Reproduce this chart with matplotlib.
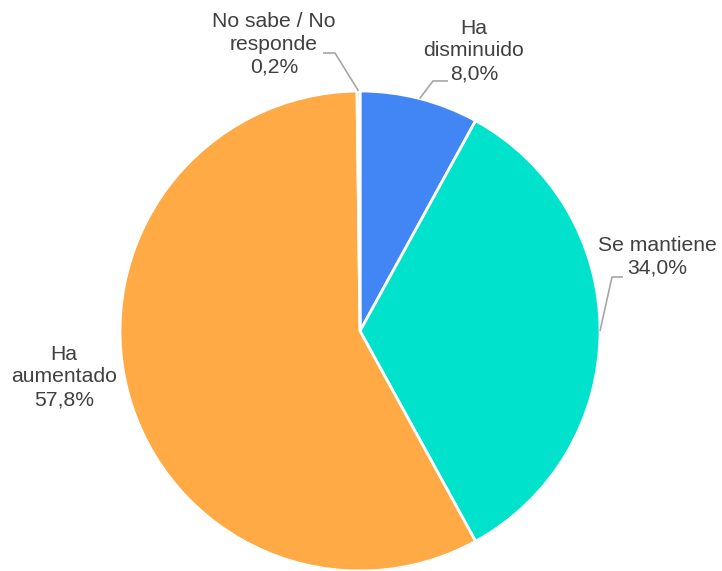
import numpy as np
import matplotlib
matplotlib.use("Agg")
import matplotlib.pyplot as plt

categories = ["Ha\ndisminuido", "Se mantiene", "Ha\naumentado", "No sabe / No\nresponde"]
values = [8.0, 34.0, 57.8, 0.2]
value_labels = ["8,0%", "34,0%", "57,8%", "0,2%"]
colors = ["#4285F4", "#00E2CB", "#FFAA44", "#A5A5A5"]

W, H = 722, 571
fig = plt.figure(figsize=(W / 100, H / 100), dpi=100)
ax = fig.add_axes([0, 0, 1, 1])
ax.set_xlim(0, W)
ax.set_ylim(0, H)
ax.set_aspect("equal")
ax.axis("off")

cx, cy, R = 360, 240, 240
wedges, _ = ax.pie(values, colors=colors, startangle=90, counterclock=False,
                   center=(cx, cy), radius=R, frame=True,
                   wedgeprops=dict(edgecolor="white", linewidth=2))
ax.set_xlim(0, W)
ax.set_ylim(0, H)
ax.axis("off")

font = dict(family=["Liberation Sans", "DejaVu Sans"], fontsize=15.2, color="#404040",
            linespacing=1.24)
line_col = "#A6A6A6"

# label layout (pixel coords, y up): text center, elbow point, line end
layout = [
    dict(text=(474, 520), elbow=(433, 490), end=(448, 490)),   # Ha disminuido
    dict(text=(657, 314), elbow=(612, 294), end=(623, 294)),   # Se mantiene
    dict(text=(64, 194), elbow=None, end=None),                 # Ha aumentado
    dict(text=(274, 527), elbow=(335, 518), end=(323, 518)),   # No sabe
]

for w, cat, vl, lay in zip(wedges, categories, value_labels, layout):
    mid = np.deg2rad((w.theta1 + w.theta2) / 2)
    if lay["elbow"] is not None:
        sx = cx + R * np.cos(mid)
        sy = cy + R * np.sin(mid)
        ex, ey = lay["elbow"]
        fx, fy = lay["end"]
        ax.plot([sx, ex, fx], [sy, ey, fy], color=line_col, lw=1.2,
                solid_capstyle="butt", zorder=1)
    ax.text(lay["text"][0], lay["text"][1], f"{cat}\n{vl}", ha="center", va="center",
            **font)

fig.savefig("out.png", dpi=100)
